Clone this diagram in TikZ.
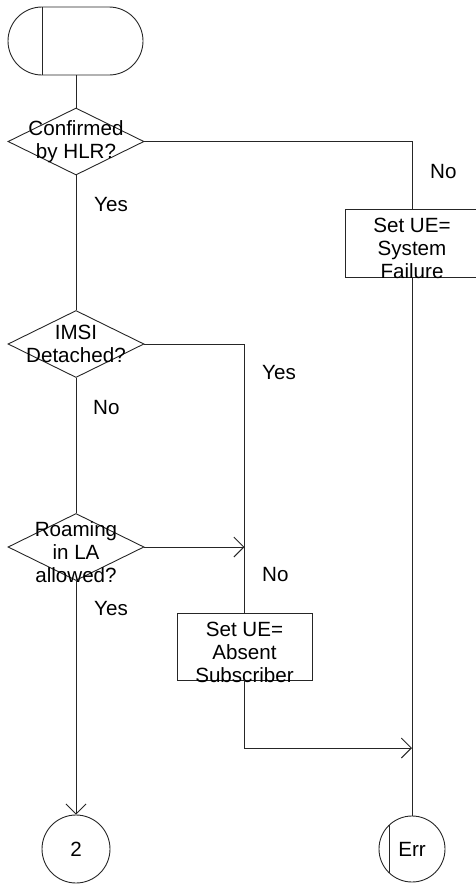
\documentclass[tikz,border=0pt]{standalone}
\usepackage{fontspec}
\setmainfont{Liberation Sans}
\usetikzlibrary{shapes.geometric,arrows.meta}
\begin{document}
\begin{tikzpicture}[x=1pt,y=-1pt,
  every node/.style={font=\fontsize{20.6pt}{23pt}\selectfont},
  ln/.style={line width=0.9pt,draw=black!85},
  dec/.style={ln,shape=diamond,minimum width=136pt,minimum height=67pt,inner sep=0pt,draw},
  task/.style={ln,shape=rectangle,minimum width=135pt,minimum height=68pt,inner sep=0pt,draw},
  conn/.style={ln,shape=circle,minimum size=68pt,inner sep=0pt,draw},
  txt/.style={align=center,inner sep=0pt},
  lbl/.style={anchor=west,inner sep=0pt},
  arr/.style={ln,-{Straight Barb[length=10pt,width=20pt,line width=0.9pt]}}
]
\useasboundingbox (0,0) rectangle (475,884);
% start
\node[ln,draw,rectangle,rounded corners=34pt,minimum width=135pt,minimum height=68pt,inner sep=0pt] (start) at (75.5,41) {};
\coordinate (sl1) at (42,7);
\coordinate (sl2) at (42,75);
\draw[ln] (sl1) -- (sl2);
% decisions
\node[dec] (d1) at (76,141.5) {};
\node[txt] (d1t) at (76,141.5) {Confirmed\\by HLR?};
\node[dec] (d2) at (76,344) {};
\node[txt] (d2t) at (76,344) {IMSI\\Detached?};
\node[dec] (d3) at (76,547) {};
\node[txt] (d3t) at (76,552) {Roaming\\in LA\\allowed?};
% tasks
\node[task,minimum width=134pt] (sf) at (412,243) {};
\node[txt] (sft) at (412,248) {Set UE=\\System\\Failure};
\node[task,minimum height=67pt] (as) at (244.5,646.5) {};
\node[txt] (ast) at (244.5,652) {Set UE=\\Absent\\Subscriber};
% connectors
\node[conn] (c2) at (76,849) {2};
\node[conn,minimum size=66pt] (err) at (412,849) {};
\node[txt] (errt) at (412,849) {Err};
\coordinate (ec1) at (389,825);
\coordinate (ec2) at (389,873);
\draw[ln] (ec1) -- (ec2);
% labels
\node[lbl] (l1) at (94,205) {Yes};
\node[lbl] (l2) at (430,172) {No};
\node[lbl] (l3) at (262,373) {Yes};
\node[lbl] (l4) at (93,408) {No};
\node[lbl] (l5) at (262,575) {No};
\node[lbl] (l6) at (94,609) {Yes};
% lines
\draw[ln] (start.south -| d1.north) -- (d1.north);
\draw[ln] (d1.east) -| (sf.north);
\draw[ln] (d1.south) -- (d2.north);
\draw[ln] (d2.east) -| (as.north);
\draw[ln] (d2.south) -- (d3.north);
\draw[arr] (d3.east) -- (d3.east -| as.north);
\draw[arr] (d3.south) -- (c2.north);
\coordinate (j2) at (412,748);
\draw[arr] (as.south) |- (j2);
\draw[ln] (sf.south) -- (err.north);
\end{tikzpicture}
\end{document}
